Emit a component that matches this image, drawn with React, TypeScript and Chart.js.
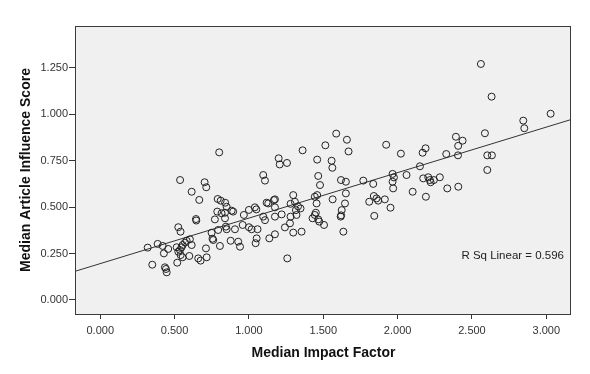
import React, { useEffect, useRef } from "react";
import { Chart, registerables } from "chart.js";

Chart.register(...registerables);

const impactFactor = [
  0.319, 0.35, 0.386, 0.42, 0.428, 0.457, 0.435, 0.442, 0.447, 0.514,
  0.525, 0.536, 0.547, 0.554, 0.57, 0.581, 0.541, 0.554, 0.603, 0.615,
  0.599, 0.518, 0.525, 0.54, 0.537, 0.702, 0.713, 0.615, 0.666, 0.79,
  0.81, 0.84, 0.85, 0.787, 0.816, 0.839, 0.884, 0.894, 0.771, 0.839,
  0.644, 0.646, 0.749, 0.793, 0.845, 0.85, 0.906, 0.958, 1.0, 1.018,
  1.058, 1.052, 1.045, 0.966, 1.0, 1.04, 1.05, 0.711, 0.659, 0.675,
  0.716, 0.76, 0.755, 0.805, 0.877, 0.928, 0.94, 0.8, 1.096, 1.108,
  1.466, 1.478, 1.619, 1.652, 1.769, 1.836, 1.966, 1.975, 1.966, 1.97,
  2.06, 1.119, 1.13, 1.168, 1.175, 1.096, 1.108, 1.175, 1.175, 1.22,
  1.137, 1.175, 1.258, 1.242, 1.298, 1.354, 1.276, 1.28, 1.298, 1.309,
  1.316, 1.32, 1.347, 1.28, 1.33, 1.428, 1.443, 1.45, 1.466, 1.473,
  1.505, 1.443, 1.459, 1.455, 1.563, 1.646, 1.624, 1.617, 1.62, 1.635,
  1.652, 1.809, 1.84, 1.858, 1.869, 1.914, 1.952, 1.843, 1.587, 1.659,
  1.514, 1.67, 1.361, 1.923, 2.022, 1.2, 1.207, 1.256, 1.459, 1.556,
  1.561, 2.56, 2.632, 2.845, 2.852, 3.029, 2.392, 2.437, 2.407, 2.587,
  2.188, 2.168, 2.327, 2.406, 2.603, 2.634, 2.15, 2.603, 2.172, 2.206,
  2.217, 2.222, 2.244, 2.284, 2.101, 2.19, 2.334, 2.408,
];

const influenceScore = [
  0.282, 0.19, 0.302, 0.291, 0.251, 0.275, 0.176, 0.167, 0.149, 0.284,
  0.26, 0.269, 0.284, 0.296, 0.309, 0.319, 0.242, 0.23, 0.327, 0.296,
  0.237, 0.201, 0.392, 0.368, 0.646, 0.634, 0.607, 0.583, 0.539, 0.544,
  0.535, 0.524, 0.502, 0.476, 0.467, 0.47, 0.481, 0.476, 0.434, 0.44,
  0.436, 0.428, 0.362, 0.377, 0.395, 0.381, 0.381, 0.404, 0.392, 0.381,
  0.381, 0.332, 0.306, 0.458, 0.485, 0.499, 0.488, 0.278, 0.224, 0.212,
  0.23, 0.323, 0.33, 0.291, 0.319, 0.314, 0.287, 0.795, 0.673, 0.643,
  0.668, 0.619, 0.646, 0.637, 0.643, 0.625, 0.679, 0.66, 0.637, 0.601,
  0.673, 0.524, 0.52, 0.538, 0.542, 0.449, 0.43, 0.499, 0.449, 0.461,
  0.332, 0.354, 0.224, 0.391, 0.363, 0.368, 0.413, 0.449, 0.565, 0.529,
  0.484, 0.458, 0.493, 0.518, 0.504, 0.44, 0.458, 0.47, 0.434, 0.422,
  0.404, 0.556, 0.565, 0.52, 0.542, 0.52, 0.484, 0.449, 0.456, 0.368,
  0.574, 0.529, 0.56, 0.547, 0.535, 0.542, 0.497, 0.453, 0.896, 0.863,
  0.833, 0.8, 0.806, 0.836, 0.788, 0.763, 0.73, 0.738, 0.756, 0.75,
  0.712, 1.271, 1.095, 0.966, 0.925, 1.003, 0.879, 0.858, 0.83, 0.898,
  0.817, 0.793, 0.786, 0.779, 0.779, 0.779, 0.72, 0.7, 0.655, 0.661,
  0.646, 0.634, 0.646, 0.661, 0.583, 0.556, 0.601, 0.61,
];

const xTicks = [0, 0.5, 1, 1.5, 2, 2.5, 3];
const yTicks = [0, 0.25, 0.5, 0.75, 1, 1.25];

const xRange = [-0.163, 3.166];
const yRange = [-0.0754, 1.4755];

const fitIntercept = 0.196;
const fitSlope = 0.245;
const rSquared = 0.596;

const xTitle = "Median Impact Factor";
const yTitle = "Median Article Influence Score";

const FONT = "'Liberation Sans', Arial, sans-serif";

export default function App() {
  const canvasRef = useRef<HTMLCanvasElement | null>(null);

  useEffect(() => {
    const canvas = canvasRef.current;
    if (!canvas) return;

    const points = impactFactor.map((x, i) => ({ x, y: influenceScore[i] }));
    const fitLine = xRange.map((x) => ({ x, y: fitIntercept + fitSlope * x }));

    const framePlugin = {
      id: "frame",
      beforeDatasetsDraw(chart: any) {
        const { ctx, chartArea } = chart;
        ctx.save();
        ctx.fillStyle = "#f0f0f0";
        ctx.fillRect(chartArea.left, chartArea.top, chartArea.right - chartArea.left, chartArea.bottom - chartArea.top);
        ctx.restore();
      },
      afterDatasetsDraw(chart: any) {
        const { ctx, chartArea } = chart;
        ctx.save();
        ctx.strokeStyle = "#3a3a3a";
        ctx.lineWidth = 1;
        ctx.strokeRect(chartArea.left - 0.5, chartArea.top + 0.5, chartArea.right - chartArea.left, chartArea.bottom - chartArea.top);
        ctx.fillStyle = "#222";
        ctx.font = `11.5px ${FONT}`;
        ctx.textAlign = "right";
        ctx.textBaseline = "middle";
        ctx.fillText(`R Sq Linear = ${rSquared.toFixed(3)}`, chartArea.right - 7, chart.scales.y.getPixelForValue(0.237));
        ctx.restore();
      },
    };

    const chart = new Chart(canvas, {
      type: "scatter",
      data: {
        datasets: [
          {
            type: "scatter",
            data: points,
            pointStyle: "circle",
            pointRadius: 3.5,
            pointHoverRadius: 3.5,
            backgroundColor: "rgba(0,0,0,0)",
            borderColor: "#222",
            borderWidth: 1,
          },
          {
            type: "line",
            data: fitLine,
            borderColor: "#333",
            borderWidth: 1,
            pointRadius: 0,
            fill: false,
          } as any,
        ],
      },
      options: {
        responsive: false,
        animation: false,
        devicePixelRatio: 1,
        layout: { padding: { left: 0, top: 26, right: 19, bottom: 0 } },
        plugins: { legend: { display: false }, tooltip: { enabled: false } },
        scales: {
          x: {
            type: "linear",
            min: xRange[0],
            max: xRange[1],
            afterBuildTicks: (scale: any) => {
              scale.ticks = xTicks.map((v) => ({ value: v }));
            },
            afterFit: (scale: any) => {
              scale.height = 60;
            },
            ticks: {
              color: "#333",
              font: { family: FONT, size: 11 },
              padding: 5,
              maxRotation: 0,
              autoSkip: false,
              callback: (v: any) => Number(v).toFixed(3),
            },
            grid: { drawOnChartArea: false, drawTicks: true, tickLength: 5, color: "#333" },
            border: { display: false },
            title: {
              display: true,
              text: xTitle,
              color: "#111",
              font: { family: FONT, size: 14, weight: "bold" },
              padding: { top: 0, bottom: 12 },
            },
          },
          y: {
            type: "linear",
            min: yRange[0],
            max: yRange[1],
            afterBuildTicks: (scale: any) => {
              scale.ticks = yTicks.map((v) => ({ value: v }));
            },
            afterFit: (scale: any) => {
              scale.width = 76;
            },
            ticks: {
              color: "#333",
              font: { family: FONT, size: 11 },
              padding: 1,
              autoSkip: false,
              callback: (v: any) => Number(v).toFixed(3),
            },
            grid: { drawOnChartArea: false, drawTicks: true, tickLength: 7, color: "#333" },
            border: { display: false },
            title: {
              display: true,
              text: yTitle,
              color: "#111",
              font: { family: FONT, size: 14, weight: "bold" },
              padding: { top: 18, bottom: 0 },
            },
          },
        },
      },
      plugins: [framePlugin],
    } as any);

    return () => chart.destroy();
  }, []);

  return (
    <div style={{ position: "absolute", left: 0, top: 0, width: 590, height: 374, background: "#fff" }}>
      <canvas ref={canvasRef} width={590} height={374} style={{ display: "block" }} />
    </div>
  );
}
